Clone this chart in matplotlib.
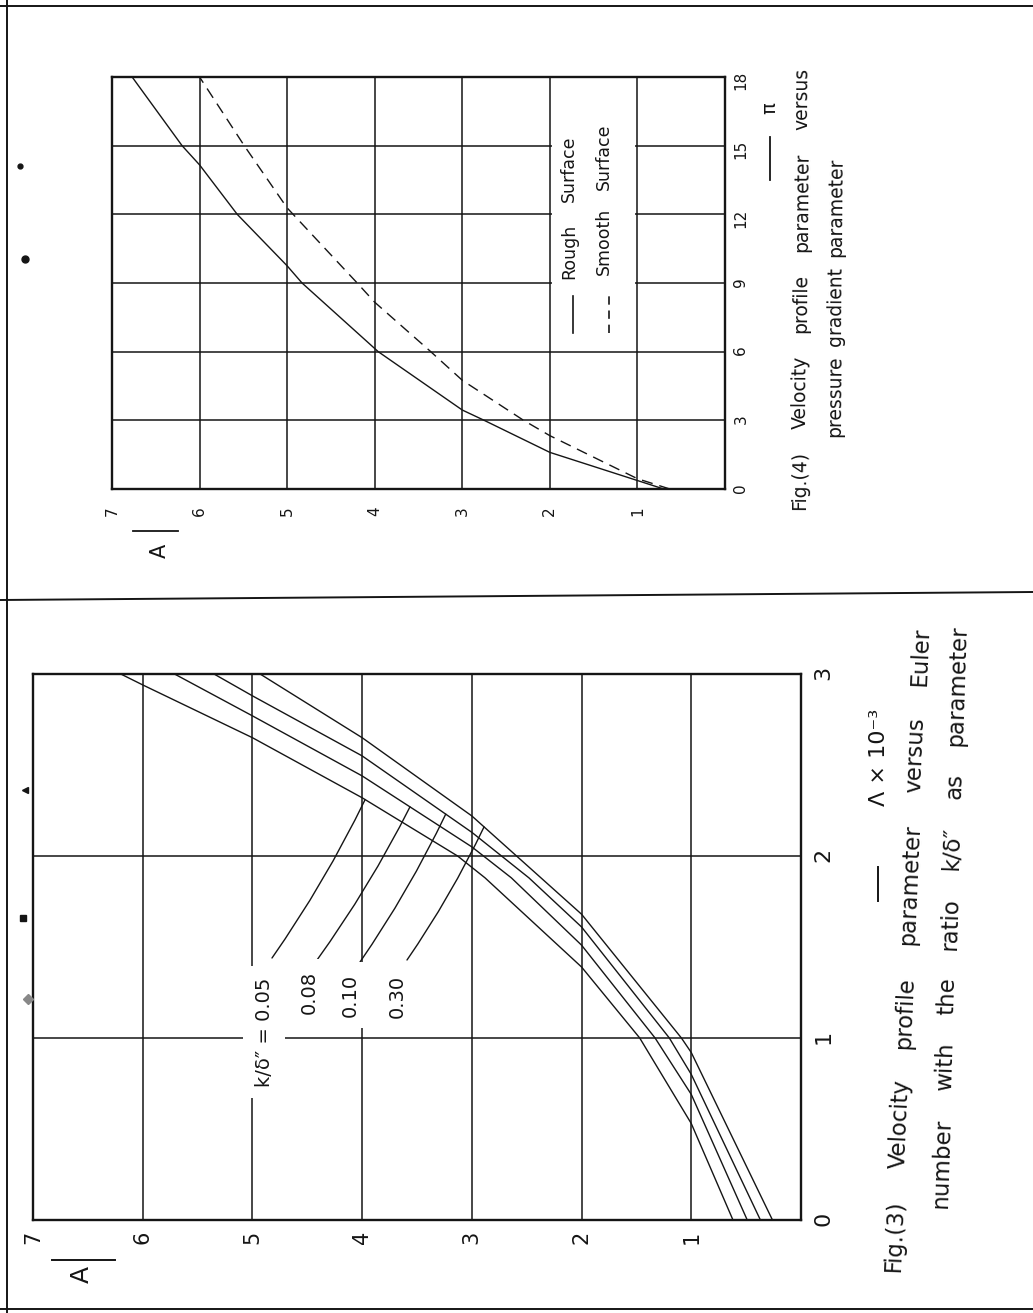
import math
import numpy as np
import matplotlib
matplotlib.use("Agg")
import matplotlib.pyplot as plt
from matplotlib.lines import Line2D
from matplotlib.patches import Rectangle

plt.rcParams['font.family'] = ['DejaVu Sans']

W, H = 1033, 1313
INK = '#151515'

# Fig.(4): A versus pi, rough and smooth surface
pi_rough = [0, 0.37, 1.6, 3.0, 3.45, 6.0, 9.0, 9.75, 12.0, 14.16, 15.0, 18.0]
A_rough = [0.70, 1.0, 2.0, 2.75, 3.0, 3.96, 4.83, 5.0, 5.57, 6.0, 6.2, 6.77]
pi_smooth = [0, 0.45, 2.33, 3.0, 4.75, 6.0, 8.16, 9.0, 12.28, 15.0, 18.0]
A_smooth = [0.63, 1.0, 2.0, 2.3, 3.0, 3.36, 4.0, 4.2, 5.0, 5.49, 6.0]
pi_ticks = [0, 3, 6, 9, 12, 15, 18]

# Fig.(3): A versus Lambda x 10^-3 for k/delta'' values
k_labels = ['0.05', '0.08', '0.10', '0.30']
lam_005 = [0, 0.53, 1.0, 1.39, 1.88, 2.0, 2.32, 2.65, 2.94, 3.0]
A_005 = [0.62, 1.0, 1.47, 2.0, 2.88, 3.13, 4.0, 5.0, 6.0, 6.2]
lam_008 = [0, 0.69, 1.0, 1.51, 1.88, 2.05, 2.44, 2.77, 3.0]
A_008 = [0.49, 1.0, 1.33, 2.0, 2.64, 3.0, 4.0, 5.0, 5.71]
lam_010 = [0, 0.80, 1.0, 1.61, 1.88, 2.13, 2.55, 2.88, 3.0]
A_010 = [0.37, 1.0, 1.20, 2.0, 2.48, 3.0, 4.0, 5.0, 5.35]
lam_030 = [0, 0.92, 1.0, 1.68, 2.22, 2.65, 3.0]
A_030 = [0.26, 1.0, 1.09, 2.0, 3.0, 4.0, 4.93]
lam_ticks = [0, 1, 2, 3]
A_ticks = [1, 2, 3, 4, 5, 6, 7]

fig = plt.figure(figsize=(W / 100, H / 100), dpi=100)
fig.patch.set_facecolor('white')


def fpos(x, y):
    # page pixel -> figure fraction
    return x / W, 1 - y / H


def page_line(x0, y0, x1, y1, lw=1.4):
    fig.add_artist(Line2D([x0 / W, x1 / W], [1 - y0 / H, 1 - y1 / H], color=INK, lw=lw))


def vtext(s, x, y, size, **kw):
    return fig.text(*fpos(x, y), s, rotation=90, ha='center', va='center',
                    fontsize=size, color=INK, **kw)


def spread(words, x0, y0, x1, y1, size):
    # lay words along a baseline from (x0,y0) to (x1,y1), bottom to top, justified
    texts = [fig.text(0, 0, w, rotation=90, rotation_mode='anchor', ha='left',
                      va='baseline', fontsize=size, color=INK) for w in words]
    r = fig.canvas.get_renderer()
    lens = [t.get_window_extent(r).height for t in texts]
    L = math.hypot(x1 - x0, y1 - y0)
    gap = max((L - sum(lens)) / max(len(words) - 1, 1), 6)
    ux, uy = (x1 - x0) / L, (y1 - y0) / L
    ang = math.degrees(math.atan2(y0 - y1, x1 - x0))
    s = 0
    for t, n in zip(texts, lens):
        t.set_position(fpos(x0 + ux * s, y0 + uy * s))
        t.set_rotation(ang)
        s += n + gap


def style(ax, xt, yt, xsize, ysize, xpad, ypad):
    ax.set_xticks(xt)
    ax.set_xticklabels([str(v) for v in xt])
    ax.set_yticks(yt)
    ax.set_yticklabels([str(v) for v in yt])
    ax.yaxis.tick_right()
    ax.tick_params(axis='x', length=0, pad=xpad, labelsize=xsize, labelrotation=90, labelcolor=INK)
    ax.tick_params(axis='y', length=0, pad=ypad, labelsize=ysize, labelrotation=90, labelcolor=INK)
    ax.grid(True, color=INK, lw=1.1)
    for sp in ax.spines.values():
        sp.set_linewidth(1.7)
        sp.set_color(INK)


# ---- Fig.(4) (top half, drawn rotated on the page) ----
ax4 = fig.add_axes([112 / W, 1 - 489 / H, (725 - 112) / W, (489 - 77) / H])
ax4.set_xlim(7, 0)
ax4.set_ylim(0, 18)
style(ax4, A_ticks, pi_ticks, 11, 11, 12.5, 6)
ax4.plot(A_rough, pi_rough, color=INK, lw=1.0, zorder=2)
ax4.plot(A_smooth, pi_smooth, color=INK, lw=1.0, ls=(0, (8, 5)), zorder=2)

# legend block
ax4.add_patch(Rectangle((1.03, 6.6), 0.94, 11.35, facecolor='white', edgecolor='none', zorder=1.8))
ax4.plot([1.74, 1.74], [6.8, 8.45], color=INK, lw=1.2, zorder=2)
ax4.plot([1.33, 1.33], [6.8, 8.45], color=INK, lw=1.2, ls=(0, (5, 3.5)), zorder=2)
spread(['Rough', 'Surface'], 574, 279, 574, 135, 12.5)
spread(['Smooth', 'Surface'], 609, 275, 609, 123, 12.5)

# axis labels
vtext('π', 770, 108, 14)
page_line(770, 180, 770, 137, lw=1.3)
vtext('A', 160, 551, 15)
page_line(133, 531, 178, 531, lw=1.3)

spread('Fig.(4) Velocity profile parameter versus'.split(), 805, 510, 808, 68, 13.5)
spread(['pressure', 'gradient', 'parameter'], 840, 437, 842, 158, 13.5)

# ---- Fig.(3) (bottom half) ----
ax3 = fig.add_axes([33 / W, 1 - 1220 / H, (801 - 33) / W, (1220 - 674) / H])
ax3.set_xlim(7, 0)
ax3.set_ylim(0, 3)
style(ax3, A_ticks, lam_ticks, 15, 16, 8, 9)
curves = [(lam_005, A_005), (lam_008, A_008), (lam_010, A_010), (lam_030, A_030)]
for lam, a in curves:
    ax3.plot(a, lam, color=INK, lw=1.0, zorder=2)


def ax3_data(x, y):
    return (801 - x) / (768 / 7), (1220 - y) / (546 / 3)


# leaders from the k/delta labels to the curves
lead_start = [(272, 958), (317, 960), (360, 962), (407, 960)]
lead_lam = [2.31, 2.27, 2.23, 2.16]
for (lam, a), (sx, sy), lt in zip(curves, lead_start, lead_lam):
    ax3.annotate('', xy=(np.interp(lt, lam, a), lt), xytext=ax3_data(sx, sy),
                 arrowprops=dict(arrowstyle='-', lw=1.0, color=INK, shrinkA=0, shrinkB=0,
                                 connectionstyle='arc3,rad=0.04'))

box = dict(facecolor='white', edgecolor='none', pad=8)
vtext('k/δ\u2033 = ' + k_labels[0], 264, 1032, 14, bbox=box)
vtext(k_labels[1], 309, 992, 14, bbox=box)
vtext(k_labels[2], 350, 995, 14, bbox=box)
vtext(k_labels[3], 397, 996, 14, bbox=box)

vtext('Λ × 10⁻³', 879, 757, 16)
page_line(878, 901, 878, 867, lw=1.4)
vtext('A', 82, 1274, 18)
page_line(52, 1260, 115, 1260, lw=1.4)

spread(['Fig.(3)', 'Velocity', 'profile', 'parameter', 'versus', 'Euler'], 900, 1272, 928, 627, 16.5)
spread(['number', 'with', 'the', 'ratio', 'k/δ\u2033', 'as', 'parameter'], 947, 1208, 966, 625, 16.5)

# page borders of the scanned sheet
page_line(0, 6, W, 6)
page_line(7, 0, 7, H)
page_line(0, 600, W, 592)
page_line(0, 1309, W, 1309)

# scan specks in the margin
for (x, y, m, s, c) in [(20, 166, 'o', 3.5, INK), (25, 259, 'o', 5, INK), (25, 790, '<', 5, INK),
                        (23, 918, 's', 4, INK), (28, 999, 'D', 5, '#888888')]:
    fig.add_artist(Line2D([x / W], [1 - y / H], marker=m, ms=s, color=c, lw=0))

fig.savefig('out.png', dpi=100, facecolor='white')
